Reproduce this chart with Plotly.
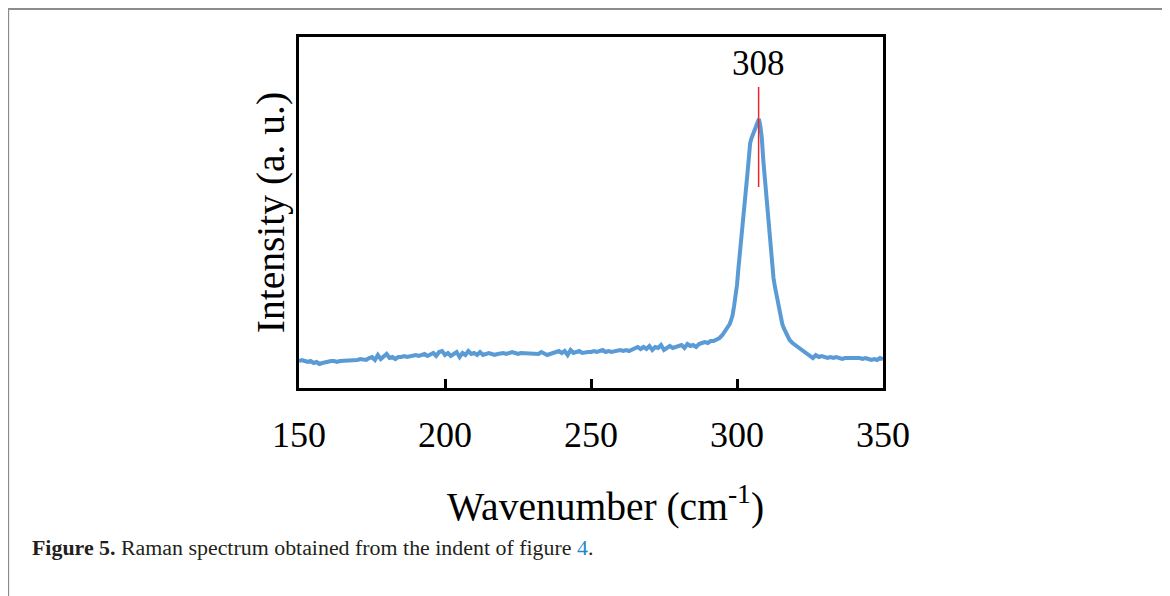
import plotly.graph_objects as go

# Raman spectrum (wavenumber in cm^-1, intensity in a.u.)
wavenumber = (
    list(range(150, 296))
    + [296, 296.5, 297, 297.5, 298, 298.5, 299, 299.5, 300, 300.5, 301, 301.5, 302, 302.5,
       303, 303.5, 304, 304.5, 305, 305.5, 306, 306.5, 307, 307.5, 308, 308.5, 309, 309.5,
       310, 310.5, 311, 311.5, 312, 312.5, 313, 313.5, 314, 314.5, 315, 315.5, 316]
    + list(range(317, 351))
)
intensity = [
    # 150-159
    27, 28, 27, 26, 27, 25, 26, 24, 25, 26,
    # 160-169
    26, 27, 27, 26, 27, 27, 28, 27, 27, 28,
    # 170-179
    28, 29, 29, 28, 30, 31, 28, 33, 29, 32,
    # 180-189
    34, 30, 31, 29, 31, 31, 32, 31, 32, 32,
    # 190-199
    33, 32, 33, 34, 32, 33, 35, 32, 36, 37,
    # 200-209
    33, 35, 32, 34, 36, 31, 35, 33, 37, 34,
    # 210-219
    35, 33, 36, 33, 34, 35, 34, 33, 34, 35,
    # 220-229
    35, 34, 35, 36, 35, 34, 35, 35, 34, 35,
    # 230-239
    35, 35, 34, 36, 34, 33, 34, 35, 36, 37,
    # 240-249
    35, 37, 33, 38, 35, 36, 37, 35, 36, 36,
    # 250-259
    36, 37, 36, 37, 38, 36, 37, 36, 37, 37,
    # 260-269
    38, 37, 38, 37, 38, 40, 41, 39, 41, 39,
    # 270-279
    42, 38, 41, 40, 43, 38, 40, 42, 40, 41,
    # 280-289
    42, 43, 40, 44, 42, 43, 41, 44, 45, 46,
    # 290-295
    45, 47, 47, 48, 50, 53,
    # 296-316 (0.5 step)
    57, 59, 61, 64, 68, 73, 82, 92, 103, 120, 137, 155, 170, 186,
    198, 212, 228, 245, 250, 254, 258, 262, 266, 269, 262, 250, 228, 210,
    195, 180, 158, 138, 118, 110, 101, 93, 84, 77, 70, 64, 60,
    # 317-350
    54, 48, 45, 43, 41, 39, 37, 35, 33, 30,
    33, 31, 32, 31, 30, 31, 30, 31, 30, 29,
    30, 30, 31, 30, 31, 30, 29, 30, 29, 28,
    29, 28, 30, 29,
]

x_ticks = [150, 200, 250, 300, 350]
peak_position = 307.4
peak_label = "308"
peak_marker_range = [201, 301]

fig = go.Figure()
fig.add_trace(go.Scatter(
    x=wavenumber, y=intensity, mode="lines",
    line=dict(color="#5b9bd5", width=4), showlegend=False,
))
fig.add_trace(go.Scatter(
    x=[peak_position, peak_position], y=peak_marker_range, mode="lines",
    line=dict(color="#e8262b", width=1.5), showlegend=False,
))
fig.add_annotation(
    x=peak_position, y=peak_marker_range[1], text=peak_label, showarrow=False,
    yanchor="bottom", yshift=2, font=dict(family="Liberation Serif", size=35, color="black"),
)

# x-axis title (slightly right of the plot centre, as in the reference)
fig.add_annotation(
    xref="paper", yref="paper", x=0.524, y=-0.328, xanchor="center", yanchor="middle",
    text="Wavenumber (cm<sup>-1</sup>)", showarrow=False,
    font=dict(family="Liberation Serif", size=39.5, color="black"),
)

# outer figure frame
fig.add_shape(type="rect", xref="paper", yref="paper",
              x0=-0.498, x1=1.481, y0=-0.65, y1=1.0798,
              line=dict(color="#8c8c8c", width=2), layer="below")

# caption
fig.add_annotation(
    xref="paper", yref="paper", x=-0.461, y=-0.455, xanchor="left", yanchor="middle",
    text="<b>Figure 5.</b> Raman spectrum obtained from the indent of figure "
         "<span style='color:#1d8ac7'>4</span>.",
    showarrow=False, font=dict(family="Liberation Serif", size=21.9, color="#231f20"),
)

fig.update_layout(
    width=1162, height=588,
    margin=dict(l=291, r=287, t=29, b=208),
    paper_bgcolor="white", plot_bgcolor="white",
    font=dict(family="Liberation Serif", color="black"),
)
fig.update_xaxes(
    range=[150, 350], tickvals=x_ticks, ticktext=[str(v) for v in x_ticks],
    ticks="inside", ticklen=9, tickwidth=2.5, tickcolor="black",
    showline=True, linecolor="black", linewidth=3, mirror=True,
    showgrid=False, zeroline=False,
    tickfont=dict(family="Liberation Serif", size=36),
    ticklabelstandoff=13,
)
fig.update_yaxes(
    range=[0, 351], showticklabels=False, ticks="",
    showline=True, linecolor="black", linewidth=3, mirror=True,
    showgrid=False, zeroline=False,
    title=dict(text="Intensity (a. u.)", font=dict(family="Liberation Serif", size=39.5), standoff=0),
)

fig.write_html("out.html")
